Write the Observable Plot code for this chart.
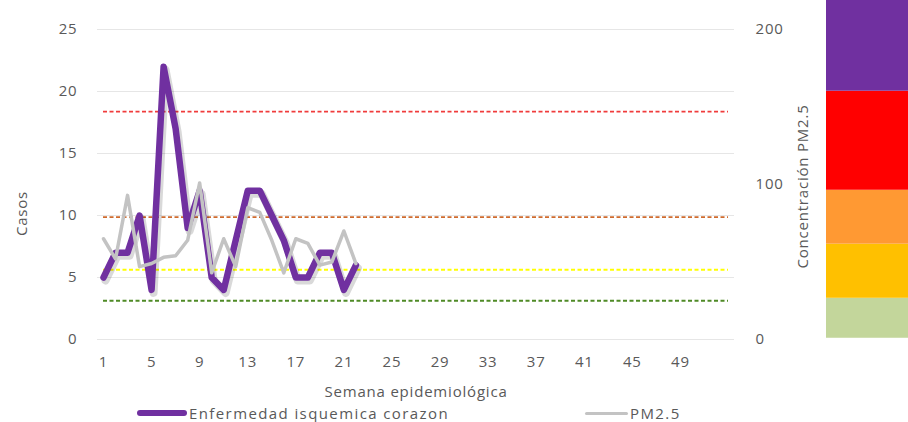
<!DOCTYPE html>
<html>
<head>
<meta charset="utf-8">
<script src="https://cdn.jsdelivr.net/npm/d3@7"></script>
<script src="https://cdn.jsdelivr.net/npm/@observablehq/plot@0.6"></script>
<style>
  html, body { margin: 0; padding: 0; background: #fff; }
  #wrap { position: relative; width: 908px; height: 422px; overflow: hidden; font-family: "Open Sans", sans-serif; }
  #main, #bar { position: absolute; top: 0; }
  #main { left: 0; }
  #bar { left: 826px; }
  #legend { position: absolute; top: 403px; left: 0; width: 908px; height: 20px; font-size: 15px; color: #595959; letter-spacing: 1.4px; }
  .item { position: absolute; top: 0; display: flex; align-items: center; height: 20px; white-space: nowrap; }
  .sw { display: inline-block; margin-right: 2px; border-radius: 3px; }
</style>
</head>
<body>
<div id="wrap">
  <div id="main"></div>
  <div id="bar"></div>
  <div id="legend"></div>
</div>
<script>
// ---- data ----
const weeks = [1,2,3,4,5,6,7,8,9,10,11,12,13,14,15,16,17,18,19,20,21,22];
const casos = [5,7,7,10,4,22,17,9,12,5,4,8,12,12,10,8,5,5,7,7,4,6];
const pm25 = [65,52,93,47,49,53,54,64,101,43,65,47,85,82,64,43,65,62,48,50,70,49];
const thresholdValues = [147, 79, 45, 25];
const thresholdColors = ["#f03c3c", "#cf6b2e", "#ffff00", "#4f8a26"];
const xTicks = [1,5,9,13,17,21,25,29,33,37,41,45,49];
const leftTicks = [0,5,10,15,20,25];
const rightTicks = [0,100,200];
const bandLow = [0.8, 26.6, 61.5, 96.3, 160.2];
const bandHigh = [26.6, 61.5, 96.3, 160.2, 218.9];
const bandColors = ["#c3d69b", "#ffc000", "#ff9933", "#ff0000", "#7030a0"];
const seriesNames = ["Enfermedad isquemica corazon", "PM2.5"];
const seriesColors = ["#7030a0", "#c3c3c3"];
const ratio = 8; // right axis units per left axis unit

const casosData = weeks.map((w, i) => ({week: w, value: casos[i]}));
const pmData = weeks.map((w, i) => ({week: w, value: pm25[i] / ratio}));
const thrData = thresholdValues.map((v, i) => ({value: v / ratio, color: thresholdColors[i]}));
const bandData = bandLow.map((lo, i) => ({lo, hi: bandHigh[i], color: bandColors[i]}));

const textColor = "#595959";
const W = 908, H = 422, mT = 29, mB = 83, mL = 97, mR = 174;

const chart = Plot.plot({
  width: W, height: H,
  marginTop: mT, marginBottom: mB, marginLeft: mL, marginRight: mR,
  style: {fontFamily: "Open Sans, sans-serif", fontSize: "15px", color: textColor, background: "transparent", letterSpacing: "0.8px"},
  x: {domain: [0.5, 53.5]},
  y: {domain: [0, 25]},
  marks: [
    Plot.ruleY(leftTicks, {stroke: "#e6e6e6", strokeWidth: 1.2}),
    Plot.ruleY(thrData, {y: "value", x1: 1, x2: 53, stroke: "color", strokeWidth: 1.8, strokeDasharray: "4,2.5"}),
    Plot.line(casosData, {x: "week", y: "value", stroke: "#000", strokeOpacity: 0.15, strokeWidth: 8, dx: 2, dy: 3, strokeLinejoin: "round", strokeLinecap: "round"}),
    Plot.line(casosData, {x: "week", y: "value", stroke: seriesColors[0], strokeWidth: 6.5, strokeLinejoin: "round", strokeLinecap: "round"}),
    Plot.line(pmData, {x: "week", y: "value", stroke: seriesColors[1], strokeWidth: 3.5, strokeLinejoin: "round", strokeLinecap: "round"}),
    Plot.axisX(xTicks, {anchor: "bottom", tickSize: 0, tickPadding: 17, label: null, fill: textColor}),
    Plot.axisY(leftTicks, {anchor: "left", tickSize: 0, tickPadding: 20, label: null, fill: textColor}),
    Plot.axisY(rightTicks.map(d => d / ratio), {anchor: "right", tickSize: 0, tickPadding: 21, tickFormat: d => Math.round(d * ratio), label: null, fill: textColor}),
    Plot.text(["Semana epidemiológica"], {frameAnchor: "bottom", dy: 53, textAnchor: "middle", lineAnchor: "middle", fill: textColor, fontSize: 15}),
    Plot.text(["Casos"], {frameAnchor: "left", textAnchor: "middle", dx: -75, dy: 29, rotate: -90, lineAnchor: "middle", fill: textColor, fontSize: 15}),
    Plot.text(["Concentración PM2.5"], {frameAnchor: "right", textAnchor: "middle", dx: 69, dy: 2, rotate: -90, lineAnchor: "middle", fill: textColor, fontSize: 15, style: "letter-spacing:0"})
  ]
});
document.getElementById("main").appendChild(chart);

const bar = Plot.plot({
  width: 82, height: H,
  marginTop: mT, marginBottom: mB, marginLeft: 0, marginRight: 0,
  x: {domain: [0, 1], axis: null},
  y: {domain: [0, 200], axis: null},
  style: {background: "transparent"},
  marks: [
    Plot.rect(bandData, {x1: 0, x2: 1, y1: "lo", y2: "hi", fill: "color"})
  ]
});
document.getElementById("bar").appendChild(bar);

// legend
const legend = document.getElementById("legend");
const items = [
  {left: 137, sw: 50, h: 6},
  {left: 585, sw: 43, h: 3}
];
seriesNames.forEach((name, i) => {
  const it = document.createElement("div");
  it.className = "item";
  it.style.left = items[i].left + "px";
  const sw = document.createElement("span");
  sw.className = "sw";
  sw.style.width = items[i].sw + "px";
  sw.style.height = items[i].h + "px";
  sw.style.background = seriesColors[i];
  it.appendChild(sw);
  const t = document.createElement("span");
  t.textContent = name;
  it.appendChild(t);
  legend.appendChild(it);
});
</script>
</body>
</html>
